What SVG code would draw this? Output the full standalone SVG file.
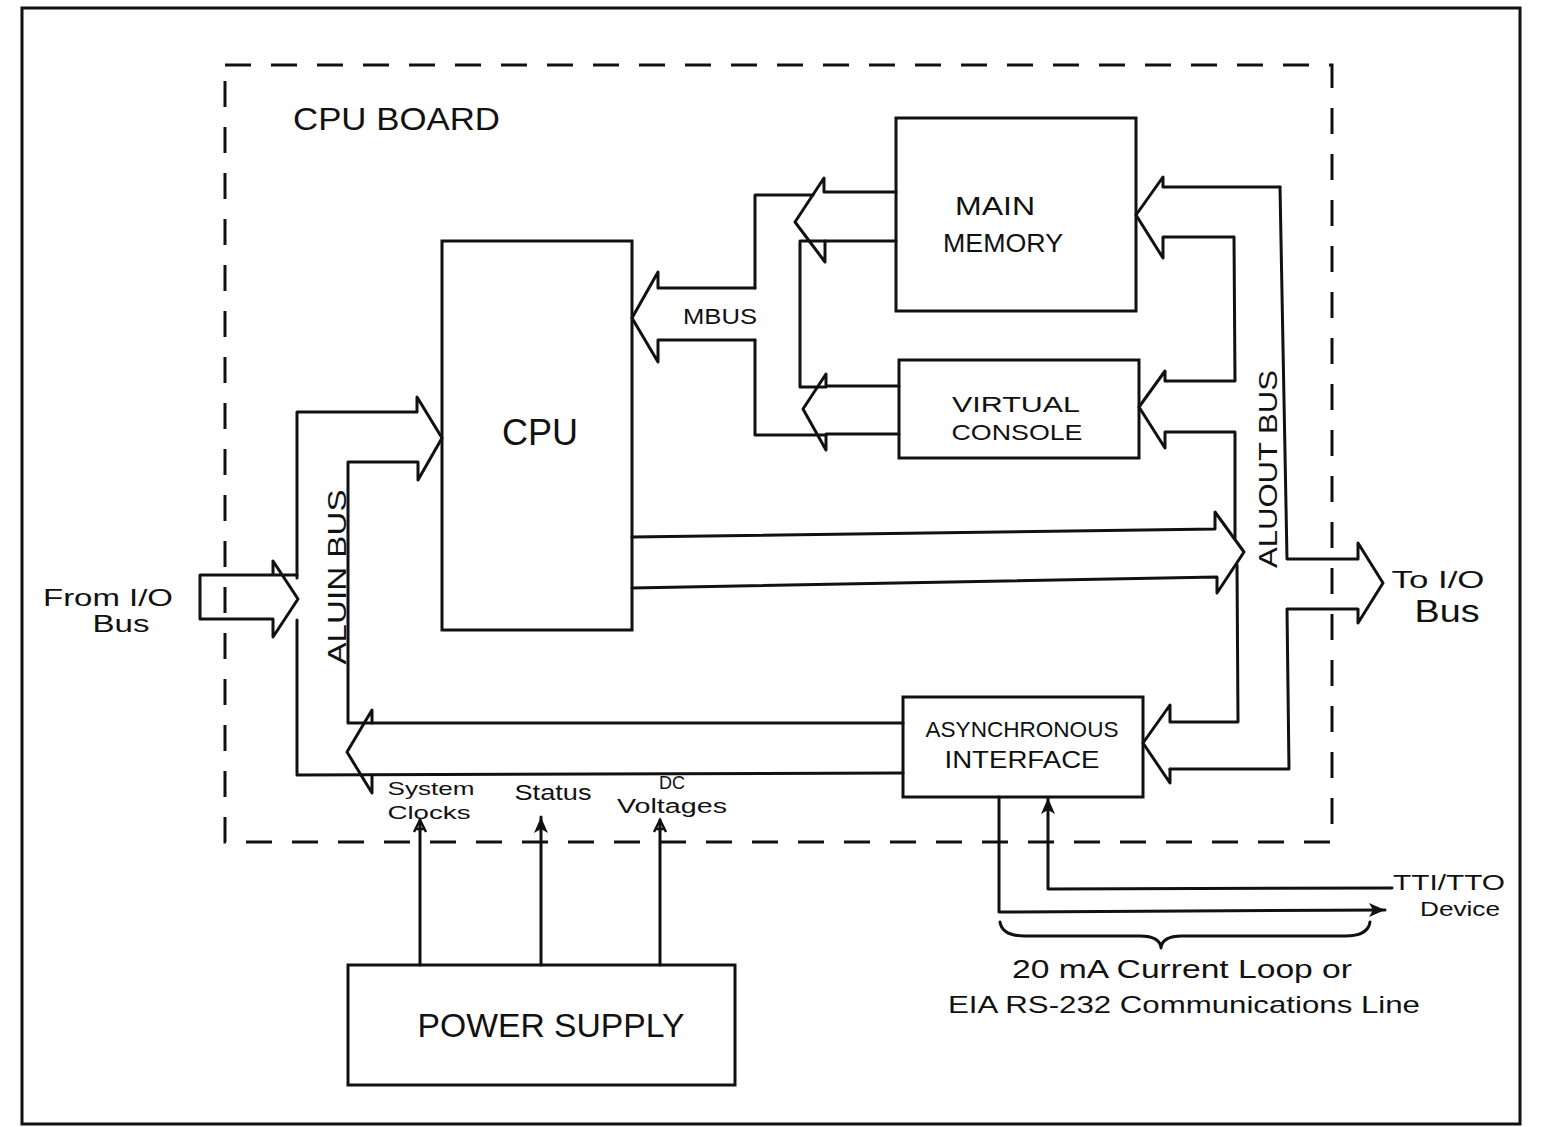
<svg xmlns="http://www.w3.org/2000/svg" width="1542" height="1127" viewBox="0 0 1542 1127">
<defs>
<style>
.ln{fill:none;stroke:#111;stroke-width:3;stroke-linejoin:round;stroke-linecap:round}
.box{fill:none;stroke:#111;stroke-width:3}
.dash{fill:none;stroke:#111;stroke-width:3;stroke-dasharray:26 20}
.t{font-family:"Liberation Sans","DejaVu Sans",sans-serif;fill:#111}
</style>
<marker id="open" markerUnits="userSpaceOnUse" markerWidth="16" markerHeight="16" refX="13" refY="7" orient="auto">
<path d="M1,1 L13,7 L1,13 M4,3 L4,11" fill="none" stroke="#111" stroke-width="2.5"/>
</marker>
<marker id="solid" markerUnits="userSpaceOnUse" markerWidth="20" markerHeight="16" refX="17" refY="8" orient="auto">
<path d="M1,1 L17,8 L1,15 L5,8 Z" fill="#111"/>
</marker>
</defs>
<rect width="1542" height="1127" fill="#fff"/>
<rect x="22" y="8" width="1498" height="1116" class="box"/>

<g id="cpu-board">
<rect x="225" y="65" width="1107" height="777" class="dash"/>
<text class="t" x="293" y="130" font-size="32" textLength="207" lengthAdjust="spacingAndGlyphs">CPU BOARD</text>
</g>

<g id="cpu">
<rect x="442" y="241" width="190" height="389" class="box"/>
<text class="t" x="540" y="445" font-size="36" text-anchor="middle">CPU</text>
</g>

<g id="main-memory">
<rect x="896" y="118" width="240" height="193" class="box"/>
<text class="t" x="995" y="215" font-size="25" text-anchor="middle" textLength="80" lengthAdjust="spacingAndGlyphs">MAIN</text>
<text class="t" x="1003" y="252" font-size="25" text-anchor="middle" textLength="120" lengthAdjust="spacingAndGlyphs">MEMORY</text>
</g>

<g id="virtual-console">
<rect x="899" y="360" width="240" height="98" class="box"/>
<text class="t" x="1016" y="412" font-size="22" text-anchor="middle" textLength="128" lengthAdjust="spacingAndGlyphs">VIRTUAL</text>
<text class="t" x="1017" y="440" font-size="22" text-anchor="middle" textLength="131" lengthAdjust="spacingAndGlyphs">CONSOLE</text>
</g>

<g id="async-interface">
<rect x="903" y="697" width="240" height="100" class="box"/>
<text class="t" x="1022" y="737" font-size="22" text-anchor="middle" textLength="193" lengthAdjust="spacingAndGlyphs">ASYNCHRONOUS</text>
<text class="t" x="1022" y="768" font-size="23" text-anchor="middle" textLength="155" lengthAdjust="spacingAndGlyphs">INTERFACE</text>
</g>

<g id="power-supply">
<rect x="348" y="965" width="387" height="120" class="box"/>
<text class="t" x="551" y="1037" font-size="33" text-anchor="middle" textLength="267" lengthAdjust="spacingAndGlyphs">POWER SUPPLY</text>
</g>

<g id="connectors">
<!-- MBUS -->
<path class="ln" d="M755,288 L658,288 L658,272 L632,318 L658,362 L658,340 L755,340"/>
<path class="ln" d="M755,288 L755,195 L813,195"/>
<path class="ln" d="M755,340 L755,435 L826,435"/>
<path class="ln" d="M896,192 L824,192 L824,178 L795,222 L825,262 L825,241 L896,241"/>
<path class="ln" d="M825,241 L800,241 L800,387 L826,387"/>
<path class="ln" d="M899,386 L826,386 L826,374 L803,409 L826,450 L826,434 L899,434"/>
<!-- ALUOUT bus -->
<path class="ln" d="M1280,187 L1163,187 L1163,177 L1136,215 L1163,258 L1163,237 L1234,237 L1235,381 L1165,381 L1165,371 L1139,407 L1165,448 L1165,432 L1235,432 L1235,538"/>
<path class="ln" d="M1280,187 L1287,559 L1358,559 L1358,543 L1383,583 L1358,623 L1358,609 L1287,609 L1289,769 L1170,769"/>
<path class="ln" d="M632,537 L1215,529 L1215,512 L1244,552 L1217,593 L1217,577 L632,588"/>
<path class="ln" d="M1237,565 L1238,722 L1170,722 L1170,705 L1143,743 L1170,783 L1170,769"/>
<!-- ALUIN bus -->
<path class="ln" d="M273,575 L200,575 L200,619 L273,619 L273,637 L298,599 L273,561 L273,575 L297,575"/>
<path class="ln" d="M297,578 L297,412 L417,412 L417,397 L442,438 L418,480 L418,462 L348,462 L348,723 L372,723"/>
<path class="ln" d="M297,620 L297,775 L903,773"/>
<path class="ln" d="M903,723 L372,723 L372,710 L347,752 L372,793 L372,775"/>
<!-- power supply -->
<path class="ln" d="M420,965 L420,820" marker-end="url(#open)"/>
<path class="ln" d="M541,965 L541,817" marker-end="url(#solid)"/>
<path class="ln" d="M660,965 L660,820" marker-end="url(#open)"/>
<!-- TTI/TTO lines -->
<path class="ln" d="M999,797 L999,912 L1385,910" marker-end="url(#solid)"/>
<path class="ln" d="M1392,888 L1048,889 L1048,798" marker-end="url(#solid)"/>
<path class="ln" d="M1000,922 Q1002,936 1025,936 L1140,936 Q1160,936 1161,948 Q1162,936 1182,936 L1345,936 Q1368,936 1370,922" stroke-width="2.5"/>
</g>

<g id="labels">
<text class="t" x="720" y="324" font-size="22" text-anchor="middle" textLength="74" lengthAdjust="spacingAndGlyphs">MBUS</text>
<text class="t" font-size="26" text-anchor="middle" transform="translate(346,577) rotate(-90)" textLength="175" lengthAdjust="spacingAndGlyphs">ALUIN BUS</text>
<text class="t" font-size="26" text-anchor="middle" transform="translate(1277,469) rotate(-90)" textLength="198" lengthAdjust="spacingAndGlyphs">ALUOUT BUS</text>
<text class="t" x="108" y="606" font-size="24" text-anchor="middle" textLength="130" lengthAdjust="spacingAndGlyphs">From I/O</text>
<text class="t" x="121" y="632" font-size="24" text-anchor="middle" textLength="57" lengthAdjust="spacingAndGlyphs">Bus</text>
<text class="t" x="1438" y="588" font-size="24" text-anchor="middle" textLength="93" lengthAdjust="spacingAndGlyphs">To I/O</text>
<text class="t" x="1447" y="622" font-size="32" text-anchor="middle" textLength="65" lengthAdjust="spacingAndGlyphs">Bus</text>
<text class="t" x="431" y="795" font-size="19" text-anchor="middle" textLength="87" lengthAdjust="spacingAndGlyphs">System</text>
<text class="t" x="429" y="819" font-size="19" text-anchor="middle" textLength="83" lengthAdjust="spacingAndGlyphs">Clocks</text>
<text class="t" x="553" y="800" font-size="22" text-anchor="middle" textLength="77" lengthAdjust="spacingAndGlyphs">Status</text>
<text class="t" x="672" y="789" font-size="18" text-anchor="middle">DC</text>
<text class="t" x="672" y="813" font-size="20" text-anchor="middle" textLength="110" lengthAdjust="spacingAndGlyphs">Voltages</text>
<text class="t" x="1449" y="890" font-size="22" text-anchor="middle" textLength="112" lengthAdjust="spacingAndGlyphs">TTI/TTO</text>
<text class="t" x="1460" y="916" font-size="20" text-anchor="middle" textLength="80" lengthAdjust="spacingAndGlyphs">Device</text>
<text class="t" x="1182" y="978" font-size="25" text-anchor="middle" textLength="340" lengthAdjust="spacingAndGlyphs">20 mA Current Loop or</text>
<text class="t" x="1184" y="1013" font-size="24" text-anchor="middle" textLength="472" lengthAdjust="spacingAndGlyphs">EIA RS-232 Communications Line</text>
</g>
</svg>
